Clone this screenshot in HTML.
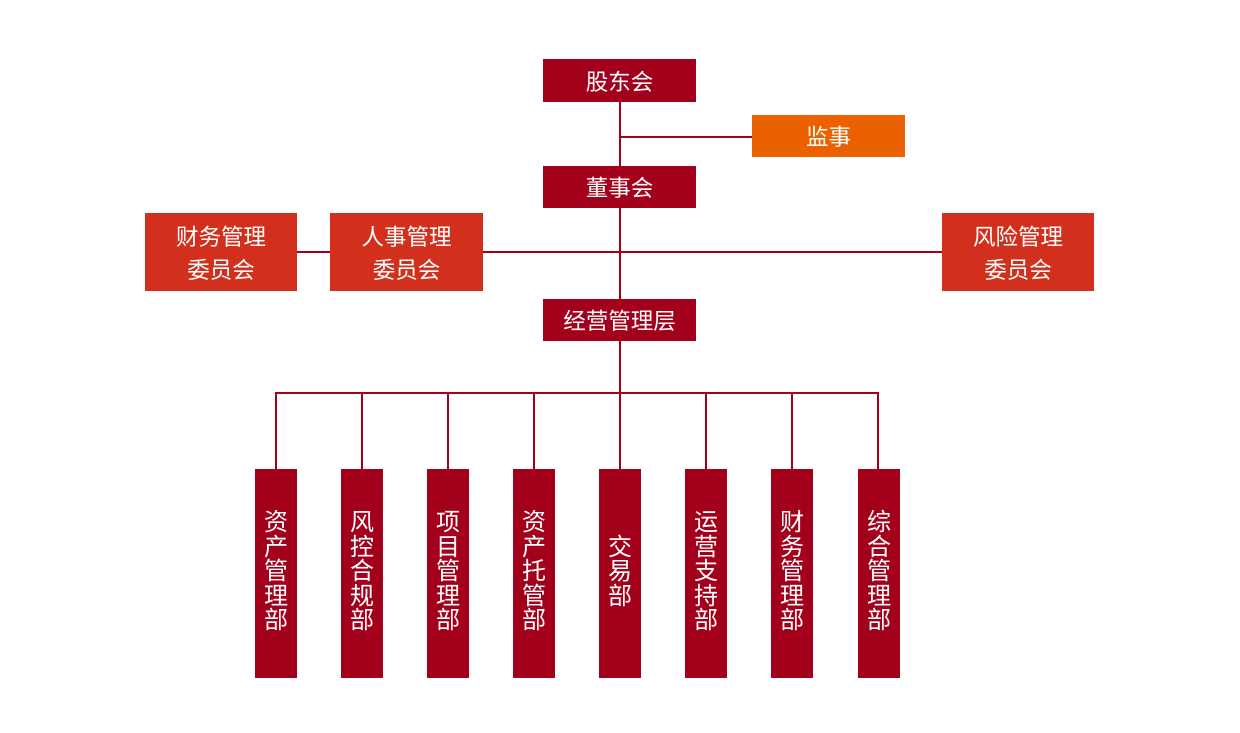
<!DOCTYPE html>
<html><head><meta charset="utf-8"><style>
html,body{margin:0;padding:0;background:#fff;}
body{width:1240px;height:733px;position:relative;overflow:hidden;font-family:"Liberation Sans","Noto Sans CJK SC","WenQuanYi Zen Hei",sans-serif;}
.b{position:absolute;color:#fff;display:flex;align-items:center;justify-content:center;text-align:center;font-size:22.5px;}
.d{background:#a3001b;}
.c{background:#d2301d;line-height:33px;flex-direction:column;padding-top:3px;box-sizing:border-box;}
.o{background:#eb6100;}
.v{position:absolute;background:#a3001b;color:#fff;width:42px;top:469px;height:209px;display:flex;align-items:center;justify-content:center;font-size:24px;line-height:24.5px;text-align:center;}
.v span{display:block;width:24px;padding-top:1px;padding-bottom:3px;}
.l{position:absolute;background:#a3001b;}
</style></head><body>
<!-- lines -->
<div class="l" style="left:619px;top:101px;width:2px;height:198px;"></div>
<div class="l" style="left:619px;top:136px;width:133px;height:2px;"></div>
<div class="l" style="left:297px;top:251px;width:645px;height:2px;"></div>
<div class="l" style="left:619px;top:340px;width:2px;height:130px;"></div>
<div class="l" style="left:275px;top:392px;width:604px;height:2px;"></div>
<div class="l" style="left:275px;top:392px;width:2px;height:78px;"></div>
<div class="l" style="left:361px;top:392px;width:2px;height:78px;"></div>
<div class="l" style="left:447px;top:392px;width:2px;height:78px;"></div>
<div class="l" style="left:533px;top:392px;width:2px;height:78px;"></div>
<div class="l" style="left:705px;top:392px;width:2px;height:78px;"></div>
<div class="l" style="left:791px;top:392px;width:2px;height:78px;"></div>
<div class="l" style="left:877px;top:392px;width:2px;height:78px;"></div>

<div class="b d" style="left:543px;top:59px;width:153px;height:43px;">股东会</div>
<div class="b o" style="left:752px;top:115px;width:153px;height:42px;">监事</div>
<div class="b d" style="left:543px;top:166px;width:153px;height:42px;">董事会</div>
<div class="b c" style="left:145px;top:213px;width:152px;height:78px;"><div>财务管理</div><div>委员会</div></div>
<div class="b c" style="left:330px;top:213px;width:153px;height:78px;"><div>人事管理</div><div>委员会</div></div>
<div class="b c" style="left:942px;top:213px;width:152px;height:78px;"><div>风险管理</div><div>委员会</div></div>
<div class="b d" style="left:543px;top:299px;width:153px;height:42px;">经营管理层</div>

<div class="v" style="left:255px;"><span>资产管理部</span></div>
<div class="v" style="left:341px;"><span>风控合规部</span></div>
<div class="v" style="left:427px;"><span>项目管理部</span></div>
<div class="v" style="left:513px;"><span>资产托管部</span></div>
<div class="v" style="left:599px;"><span>交易部</span></div>
<div class="v" style="left:685px;"><span>运营支持部</span></div>
<div class="v" style="left:771px;"><span>财务管理部</span></div>
<div class="v" style="left:858px;"><span>综合管理部</span></div>
</body></html>
